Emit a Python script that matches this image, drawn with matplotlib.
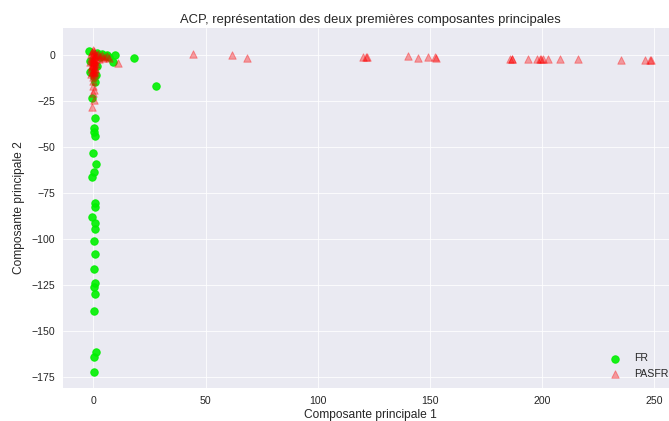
import matplotlib
matplotlib.use("Agg")
import matplotlib.pyplot as plt

# -----------------------------
# Data: projections on the first two principal components
# -----------------------------
fr_x = [-1.8, 1.8, -1.5, 1.6, -1.4, 1.3, 0.6, 0.4, 2.0, 3.0, 4.0, 5.0, 6.0, 7.0,
        9.8, 8.8, 18.3, 27.9,
        -0.6, 0.6, 0.3, 0.4, 0.6, -0.3, 1.0, 0.4, -0.4,
        0.6, 0.6, -0.4, 0.6, 0.6, 0.4, 0.6, 0.4, 0.6, 0.4, 0.6, 0.4, 1.0, 0.4, 0.4]
fr_y = [2.0, 1.0, -3.0, -6.0, -9.0, -11.0, -14.5, -11.8, 0.0, -1.0, 0.5, -0.5, 0.0, -1.0,
        0.0, -4.0, -1.8, -16.9,
        -23.2, -34.1, -39.9, -42.0, -44.0, -53.5, -59.5, -63.5, -66.2,
        -80.7, -82.9, -88.0, -91.6, -94.8, -101.2, -108.5, -116.3, -124.2, -126.4,
        -130.2, -139.1, -161.6, -164.1, -172.6]

pasfr_x = [0.0, 0.5, -0.5, 0.2, -1.0, 0.8, -0.3, 0.4, -1.2, 1.0, 0.0, -0.6, 0.6, -1.5,
           0.3, 1.2, -0.8, 0.1, -0.4, 0.9, -1.1, 0.5, -0.2, 0.7, -0.6, 0.2, -0.9, 0.4,
           0.0, -0.3, 0.3, -0.1, 0.1, -0.5, 0.6, 0.0,
           2.0, 3.0, 4.0, 5.0, 6.0, 7.0, 2.5, 4.5, 1.5,
           10.8, 0.0, 0.2, -0.3, 0.1, -0.6, -0.2,
           44.5, 62.0, 68.5, 120.3, 121.5, 122.1, 140.3, 144.8, 149.2, 152.3, 152.8,
           185.7, 186.4, 186.6, 193.8, 197.8, 199.1, 199.5, 200.4, 202.7, 208.0,
           216.0, 235.2, 245.9, 248.0, 248.6]
pasfr_y = [3.0, 2.0, 1.5, 1.0, 0.5, 0.0, -0.5, -1.0, -1.5, -2.0, -2.5, -3.0, -3.5, -4.0,
           -4.5, -5.0, -5.5, -6.0, -6.5, -7.0, -7.5, -8.0, -8.5, -9.0, -9.5, -10.0, -10.5,
           -11.0, -12.0, -2.0, -3.0, -4.0, -5.0, -6.0, -7.5, -9.0,
           0.5, -0.5, 0.0, -1.0, -0.5, -1.5, -2.0, -1.5, 0.0,
           -4.5, -17.0, -19.0, -20.5, -24.5, -28.1, -14.0,
           0.5, 0.0, -1.5, -0.9, -1.0, -1.2, -0.5, -1.5, -1.3, -1.2, -1.4,
           -2.0, -2.1, -2.0, -2.1, -2.0, -2.0, -2.2, -1.9, -2.0, -2.4,
           -2.2, -2.9, -2.7, -2.8, -2.7]

# -----------------------------
# Plot
# -----------------------------
plt.style.use("seaborn-v0_8-darkgrid")
plt.rcParams["font.family"] = ["Liberation Sans", "DejaVu Sans"]

fig = plt.figure(figsize=(669 / 72, 421 / 72), dpi=72)
ax = fig.add_axes([63 / 669, 1 - 388 / 421, 615 / 669, 360 / 421])

ax.scatter(fr_x, fr_y, c="#00f000", marker="o", s=55, alpha=0.9, label="FR")
ax.scatter(pasfr_x, pasfr_y, c="red", marker="^", s=55, alpha=0.35, label="PASFR")

ax.set_xlim(-13.5, 260.5)
ax.set_ylim(-181.2, 14.7)
ax.set_title("ACP, représentation des deux premières composantes principales",
             fontsize=13, pad=5)
ax.set_xlabel("Composante principale 1", fontsize=12, labelpad=3)
ax.set_ylabel("Composante principale 2", fontsize=12, labelpad=6)
ax.tick_params(labelsize=10.5, pad=8)
ax.legend(loc="lower right", fontsize=10.5)

fig.savefig("out.png", dpi=72)
